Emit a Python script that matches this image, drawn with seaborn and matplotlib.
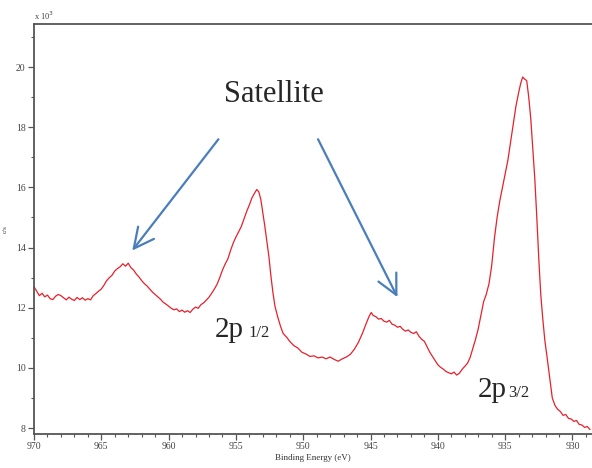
import numpy as np
import pandas as pd
import seaborn as sns
import matplotlib.pyplot as plt

# Cu 2p spectrum (binding energy in eV, counts in x10^3 c/s)
be = [970.0, 969.8, 969.6, 969.4, 969.2, 969.0, 968.8, 968.6, 968.4, 968.2, 968.0, 967.8, 967.6,
      967.4, 967.2, 967.0, 966.8, 966.6, 966.4, 966.2, 966.0, 965.8, 965.6, 965.4, 965.2, 965.0,
      964.8, 964.6, 964.4, 964.2, 964.0, 963.8, 963.6, 963.4, 963.2, 963.0, 962.8, 962.6, 962.4,
      962.2, 962.0, 961.8, 961.6, 961.4, 961.2, 961.0, 960.8, 960.6, 960.4, 960.2, 960.0, 959.8,
      959.6, 959.4, 959.2, 959.0, 958.8, 958.6, 958.4, 958.2, 958.0, 957.8, 957.6, 957.4, 957.2,
      957.0, 956.8, 956.6, 956.4, 956.2, 956.0, 955.8, 955.6, 955.4, 955.2, 955.0, 954.8, 954.6,
      954.4, 954.2, 954.0, 953.8, 953.6, 953.45, 953.3, 953.15, 953.0, 952.85, 952.7, 952.55,
      952.4, 952.25, 952.1, 951.9, 951.7, 951.5, 951.2, 951.0, 950.7, 950.4, 950.1, 949.8, 949.5,
      949.2, 948.9, 948.6, 948.3, 948.0, 947.7, 947.4, 947.1, 946.8, 946.5, 946.2, 945.9, 945.6,
      945.3, 945.1, 944.95, 944.8, 944.6, 944.4, 944.2, 944.0, 943.8, 943.6, 943.4, 943.2, 943.0,
      942.8, 942.6, 942.4, 942.2, 942.0, 941.8, 941.6, 941.4, 941.2, 941.0, 940.8, 940.6, 940.4,
      940.2, 940.0, 939.8, 939.6, 939.4, 939.2, 939.0, 938.8, 938.6, 938.4, 938.2, 938.0, 937.8,
      937.6, 937.4, 937.2, 937.0, 936.8, 936.6, 936.4, 936.2, 936.0, 935.8, 935.6, 935.4, 935.2,
      935.0, 934.8, 934.6, 934.4, 934.2, 934.0, 933.85, 933.7, 933.55, 933.4, 933.25, 933.1,
      932.95, 932.8, 932.65, 932.5, 932.35, 932.2, 932.05, 931.9, 931.7, 931.5, 931.3, 931.1,
      930.9, 930.7, 930.5, 930.3, 930.1, 929.9, 929.7, 929.5, 929.3, 929.1, 928.9, 928.7]
counts = [12.70, 12.55, 12.40, 12.48, 12.36, 12.42, 12.30, 12.27, 12.38, 12.44, 12.40, 12.33, 12.26,
          12.35, 12.28, 12.24, 12.34, 12.27, 12.33, 12.25, 12.30, 12.26, 12.40, 12.47, 12.55, 12.62,
          12.75, 12.90, 13.00, 13.08, 13.22, 13.30, 13.36, 13.46, 13.38, 13.48, 13.33, 13.25, 13.12,
          13.02, 12.90, 12.80, 12.72, 12.62, 12.52, 12.44, 12.36, 12.28, 12.18, 12.12, 12.05, 11.98,
          11.93, 11.96, 11.87, 11.92, 11.85, 11.90, 11.84, 11.95, 12.02, 11.98, 12.10, 12.16, 12.25,
          12.35, 12.48, 12.62, 12.78, 13.00, 13.25, 13.45, 13.62, 13.90, 14.15, 14.35, 14.52, 14.70,
          14.95, 15.20, 15.42, 15.66, 15.82, 15.93, 15.85, 15.60, 15.15, 14.70, 14.20, 13.70,
          13.05, 12.50, 12.05, 11.70, 11.40, 11.15, 11.00, 10.88, 10.74, 10.66, 10.52, 10.46, 10.38,
          10.40, 10.33, 10.36, 10.30, 10.36, 10.28, 10.22, 10.30, 10.36, 10.45, 10.62, 10.85, 11.15,
          11.50, 11.72, 11.84, 11.74, 11.70, 11.62, 11.64, 11.55, 11.52, 11.58, 11.45, 11.42, 11.35,
          11.38, 11.28, 11.22, 11.26, 11.18, 11.14, 11.20, 11.05, 10.95, 10.88, 10.70, 10.52, 10.38,
          10.24, 10.10, 10.02, 9.96, 9.88, 9.84, 9.80, 9.86, 9.76, 9.82, 9.95, 10.05, 10.15,
          10.35, 10.65, 10.95, 11.30, 11.75, 12.20, 12.45, 12.80, 13.40, 14.30, 15.00, 15.55, 16.00,
          16.45, 16.90, 17.50, 18.10, 18.70, 19.15, 19.45, 19.67, 19.60, 19.55, 19.00, 18.30,
          17.30, 16.30, 15.00, 13.60, 12.40, 11.60, 10.90, 10.40, 9.70, 9.00, 8.75, 8.62,
          8.55, 8.42, 8.45, 8.32, 8.30, 8.22, 8.25, 8.12, 8.10, 8.02, 8.05, 7.95]

df = pd.DataFrame({'BE': be, 'cps': counts})

sns.set_style("ticks")
plt.rcParams['font.family'] = ['Liberation Serif', 'DejaVu Serif']

fig = plt.figure(figsize=(5.92, 4.68), dpi=100)
ax = fig.add_axes([0.0574, 0.0726, 0.9426, 0.876])

sns.lineplot(data=df, x='BE', y='cps', color='#e8202a', linewidth=0.9,
             sort=False, estimator=None, ax=ax)

ax.set_xlim(970, 928.55)
ax.set_ylim(7.8, 21.43)
ax.set_xticks(np.arange(970, 929, -5))
ax.set_xticks(np.arange(970, 928, -1), minor=True)
ax.set_yticks(np.arange(8, 21, 2))
ax.set_yticks(np.arange(9, 22, 2), minor=True)

for s in ['left', 'bottom', 'top']:
    ax.spines[s].set_color('#555555')
    ax.spines[s].set_linewidth(1.3)
ax.spines['right'].set_visible(False)
ax.tick_params(axis='both', which='major', labelsize=7, labelcolor='#444444',
               color='#555555', length=4, width=0.9, pad=2)
ax.tick_params(axis='both', which='minor', color='#555555', length=2.5, width=0.8)

ax.set_xlabel('Binding Energy (eV)', fontsize=6.5, color='#333333', labelpad=2)
ax.set_ylabel('c/s', fontsize=5, color='#333333', labelpad=6)
ax.text(0.0, 1.005, r'x 10$^3$', transform=ax.transAxes, fontsize=6, color='#444444',
        ha='left', va='bottom')

# annotations
blue = '#4a7ebb'
ax.text(952.2, 19.1, 'Satellite', fontsize=22, ha='center', va='center')
ax.annotate('', xy=(962.7, 13.9), xytext=(956.3, 17.6),
            arrowprops=dict(arrowstyle='->,head_length=0.8,head_width=0.4',
                            color=blue, lw=1.6, mutation_scale=18, shrinkA=0, shrinkB=0))
ax.annotate('', xy=(943.0, 12.35), xytext=(948.9, 17.6),
            arrowprops=dict(arrowstyle='->,head_length=0.8,head_width=0.4',
                            color=blue, lw=1.6, mutation_scale=18, shrinkA=0, shrinkB=0))

ax.text(956.55, 11.03, '2p', fontsize=21, ha='left', va='baseline')
ax.text(954.1, 11.03, '1/2', fontsize=12, ha='left', va='baseline')
ax.text(937.0, 9.03, '2p', fontsize=21, ha='left', va='baseline')
ax.text(934.8, 9.03, '3/2', fontsize=12, ha='left', va='baseline')

plt.savefig('out.png', dpi=100)
